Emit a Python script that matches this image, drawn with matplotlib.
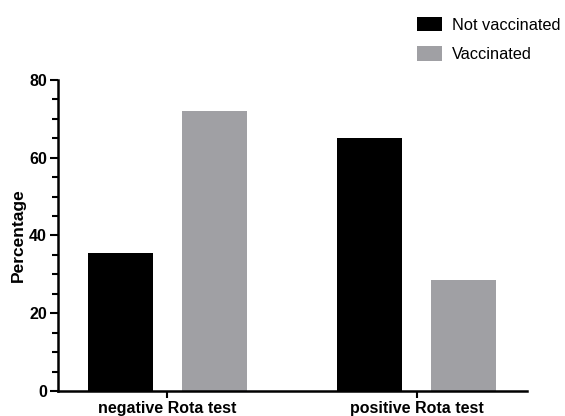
import matplotlib
matplotlib.use('Agg')
import matplotlib.pyplot as plt
import numpy as np
from matplotlib.ticker import MultipleLocator

plt.rcParams['font.family'] = ['Liberation Sans', 'DejaVu Sans']

categories = ['negative Rota test', 'positive Rota test']
not_vaccinated = [35.5, 65.0]
vaccinated = [72.0, 28.5]
series_names = ['Not vaccinated', 'Vaccinated']

fig = plt.figure(figsize=(5.65, 4.16), dpi=100)
ax = fig.add_axes([0.1027, 0.060, 0.830, 0.748])

x = np.arange(len(categories))
w = 0.26
ax.bar(x - 0.188, not_vaccinated, w, color='black', label=series_names[0])
ax.bar(x + 0.188, vaccinated, w, color='#a0a0a4', label=series_names[1])

ax.set_xlim(-0.436, 1.44)
ax.set_ylim(0, 80)
ax.set_xticks(x)
ax.set_xticklabels(categories, fontweight='bold', fontsize=11.5)
ax.yaxis.set_major_locator(MultipleLocator(20))
ax.yaxis.set_minor_locator(MultipleLocator(5))
for lab in ax.get_yticklabels():
    lab.set_fontweight('bold')
ax.tick_params(axis='y', labelsize=11.5, width=1.5, length=6, pad=2)
ax.tick_params(axis='y', which='minor', width=1.5, length=4)
ax.tick_params(axis='x', width=1.5, length=5, pad=2)
ax.set_ylabel('Percentage', fontweight='bold', fontsize=12.5, labelpad=2)

for s in ['top', 'right']:
    ax.spines[s].set_visible(False)
for s in ['left', 'bottom']:
    ax.spines[s].set_linewidth(1.8)

ax.legend(loc='upper left', bbox_to_anchor=(0.733, 1.25), frameon=False,
          fontsize=11.8, handlelength=1.55, handleheight=1.0, labelspacing=0.8,
          handletextpad=0.6)

fig.savefig('out.png', dpi=100)
